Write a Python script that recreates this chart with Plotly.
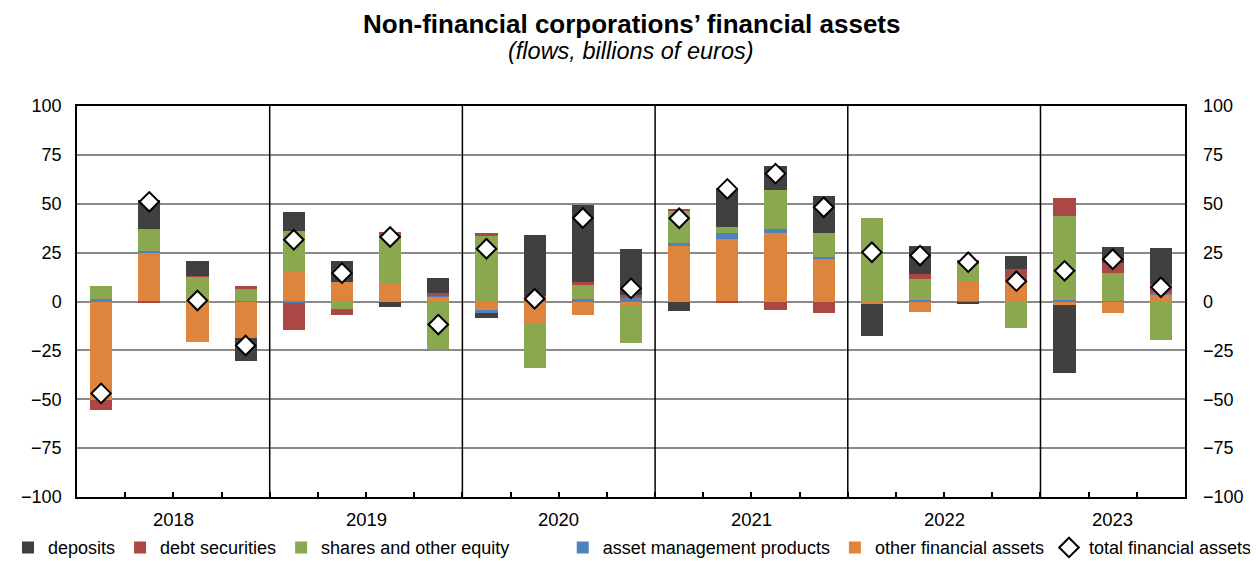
import plotly.graph_objects as go

quarters = ["2018Q1", "2018Q2", "2018Q3", "2018Q4",
            "2019Q1", "2019Q2", "2019Q3", "2019Q4",
            "2020Q1", "2020Q2", "2020Q3", "2020Q4",
            "2021Q1", "2021Q2", "2021Q3", "2021Q4",
            "2022Q1", "2022Q2", "2022Q3", "2022Q4",
            "2023Q1", "2023Q2", "2023Q3"]

deposits = [0.0, 14.5, 7.7, -11.6, 9.7, 10.8, -2.7, 8.0, -2.4, 31.2, 39.4, 23.5,
            -5.1, 19.9, 12.3, 18.9, -15.9, 14.3, -1.0, 6.6, -35.1, 8.2, 18.4]
debt_securities = [-5.1, -0.5, 0.5, 1.0, -13.8, -3.1, 2.7, 1.0, 1.0, 2.2, 1.5, 1.5,
                   1.0, -1.0, -4.1, -6.1, 0.0, 2.6, 1.4, 6.1, 9.2, 5.1, 4.6]
shares_equity = [6.5, 11.6, 12.6, 6.5, 20.5, -3.8, 23.7, -24.2, 34.0, -22.5, 7.3, -19.3,
                 16.4, 3.1, 19.9, 12.3, 42.8, 10.6, 9.7, -13.5, 42.8, 14.3, -19.9]
asset_mgmt = [1.5, 0.5, 0.0, 0.3, -0.7, 0.0, 0.0, 0.7, -1.0, 0.5, 1.2, 2.0,
              1.4, 3.1, 2.0, 1.4, 0.0, 0.7, -0.5, 0.3, 1.0, 0.3, 0.7]
other_assets = [-50.3, 25.1, -20.5, -18.6, 15.7, 10.1, 9.2, 2.4, -4.8, -11.3, -6.8, -1.7,
                28.6, 32.0, 35.1, 21.5, -1.5, -5.3, 10.2, 10.2, -1.7, -6.1, 3.7]
total_assets = [-47.0, 51.0, 0.5, -22.5, 31.6, 14.5, 33.0, -11.8, 27.0, 1.4, 42.7, 6.7,
                42.6, 57.6, 65.4, 48.2, 25.2, 23.5, 20.1, 10.4, 15.7, 21.6, 7.3]

y_ticks = [-100, -75, -50, -25, 0, 25, 50, 75, 100]

FONT = "Liberation Sans, Arial, sans-serif"

fig = go.Figure()

bar_series = [
    ("other financial assets", other_assets, "#DE843C", 5, "legend2"),
    ("asset management products", asset_mgmt, "#4F81BD", 4, "legend2"),
    ("shares and other equity", shares_equity, "#8AA84F", 3, "legend"),
    ("debt securities", debt_securities, "#AB4744", 2, "legend"),
    ("deposits", deposits, "#404040", 1, "legend"),
]
for name, vals, color, rank, leg in bar_series:
    fig.add_trace(go.Bar(
        x=quarters, y=vals, name=name, marker=dict(color=color, line=dict(width=0)),
        width=0.46, legendrank=rank, legend=leg, yaxis="y",
    ))

fig.add_trace(go.Scatter(
    x=quarters, y=total_assets, name="total financial assets", mode="markers",
    marker=dict(symbol="diamond", size=15, color="white", line=dict(color="black", width=2)),
    legendrank=6, legend="legend2", yaxis="y2",
))

# year labels and separators
years = []
for i, q in enumerate(quarters):
    y = q[:4]
    if not years or years[-1][0] != y:
        years.append([y, i, i])
    else:
        years[-1][2] = i

shapes = []
annotations = []
for k, (yr, i0, i1) in enumerate(years):
    annotations.append(dict(x=(i0 + i1) / 2, y=-0.058, xref="x", yref="paper",
                            text=yr, showarrow=False, yanchor="middle",
                            font=dict(size=18.5, color="black", family=FONT)))
    if k > 0:
        shapes.append(dict(type="line", xref="x", yref="paper", x0=i0 - 0.5, x1=i0 - 0.5,
                           y0=0, y1=1, line=dict(color="black", width=1.5)))

annotations.append(dict(x=0.5, y=1.2097, xref="paper", yref="paper", showarrow=False,
                        text="<b>Non-financial corporations’ financial assets</b>",
                        yanchor="middle", font=dict(size=26, color="black", family=FONT)))
annotations.append(dict(x=0.5, y=1.141, xref="paper", yref="paper", showarrow=False,
                        text="<i>(flows, billions of euros)</i>",
                        yanchor="middle", font=dict(size=23.5, color="black", family=FONT)))

yaxis_common = dict(range=[-100, 100], tickvals=y_ticks, ticks="",
                    tickfont=dict(size=18, color="black", family=FONT),
                    zeroline=False)

legend_common = dict(orientation="h", xref="container", yref="container",
                     y=0.024, yanchor="middle",
                     font=dict(size=18, color="black", family=FONT),
                     itemwidth=30, tracegroupgap=0, bgcolor="rgba(0,0,0,0)")

fig.update_layout(
    width=1250, height=553,
    margin=dict(l=69, r=73, t=98, b=64, autoexpand=False),
    paper_bgcolor="white", plot_bgcolor="white",
    barmode="relative", bargap=0,
    font=dict(family=FONT, color="black"),
    showlegend=True,
    legend=dict(**legend_common, x=0.0, xanchor="left"),
    legend2=dict(**legend_common, x=0.999, xanchor="right"),
    xaxis=dict(type="category", categoryorder="array", categoryarray=quarters,
               range=[-0.5, len(quarters) - 0.5],
               showticklabels=False, ticks="inside", tickson="boundaries", ticklen=5,
               tickcolor="black", tickwidth=1.5,
               showline=True, linecolor="black", linewidth=1.5, mirror=True,
               showgrid=False, zeroline=False),
    yaxis=dict(**yaxis_common, side="left", showgrid=True, gridcolor="#8a8a8a", gridwidth=2,
               showline=True, linecolor="black", linewidth=1.5, mirror=True,
               ticklabelstandoff=10),
    yaxis2=dict(**yaxis_common, side="right", overlaying="y", showgrid=False,
                showline=False, ticklabelstandoff=17),
    shapes=shapes,
    annotations=annotations,
)

fig.write_html("out.html")
